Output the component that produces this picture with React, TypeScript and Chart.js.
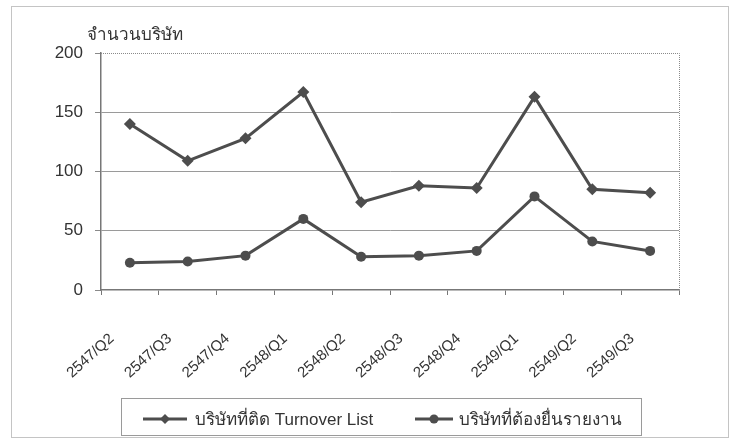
import { useEffect, useRef } from "react";
import { Chart, registerables } from "chart.js";

Chart.register(...registerables);

const categories = ["2547/Q2", "2547/Q3", "2547/Q4", "2548/Q1", "2548/Q2", "2548/Q3", "2548/Q4", "2549/Q1", "2549/Q2", "2549/Q3"];
const turnoverList = [140, 109, 128, 167, 74, 88, 86, 163, 85, 82];
const mustReport = [23, 24, 29, 60, 28, 29, 33, 79, 41, 33];
const yTickValues = [0, 50, 100, 150, 200];
const seriesNames = ["บริษัทที่ติด Turnover List", "บริษัทที่ต้องยื่นรายงาน"];
const yTitle = "จำนวนบริษัท";

const FONT = "'Liberation Sans', Arial, 'Noto Sans', 'DejaVu Sans', sans-serif";
const LINE = "#4d4d4d";

const decor = {
  id: "decor",
  beforeDraw(chart: any) {
    const { ctx, width, height } = chart;
    ctx.save();
    ctx.fillStyle = "#ffffff";
    ctx.fillRect(0, 0, width, height);
    ctx.strokeStyle = "#c4c4c4";
    ctx.lineWidth = 1;
    ctx.strokeRect(11.5, 6.5, 717, 431);
    ctx.restore();
  },
  beforeDatasetsDraw(chart: any) {
    const { ctx, chartArea } = chart;
    ctx.save();
    ctx.strokeStyle = "#8a8a8a";
    ctx.lineWidth = 1;
    ctx.setLineDash([1, 1]);
    ctx.beginPath();
    ctx.moveTo(chartArea.left, chartArea.top + 0.5);
    ctx.lineTo(chartArea.right + 0.5, chartArea.top + 0.5);
    ctx.lineTo(chartArea.right + 0.5, chartArea.bottom);
    ctx.stroke();
    ctx.restore();
  },
  afterDraw(chart: any) {
    const { ctx } = chart;
    ctx.save();
    // y title
    ctx.fillStyle = "#333";
    ctx.font = `17px ${FONT}`;
    ctx.textAlign = "left";
    ctx.textBaseline = "middle";
    ctx.fillText(yTitle, 87, 35);
    // legend box
    ctx.strokeStyle = "#9a9a9a";
    ctx.lineWidth = 1;
    ctx.strokeRect(121.5, 398.5, 520, 37);
    const cy = 419;
    const items = [
      { x0: 143, x1: 187, text: seriesNames[0], tx: 195, marker: "diamond" },
      { x0: 415, x1: 453, text: seriesNames[1], tx: 459, marker: "circle" },
    ];
    for (const it of items) {
      ctx.strokeStyle = LINE;
      ctx.lineWidth = 3;
      ctx.beginPath();
      ctx.moveTo(it.x0, cy);
      ctx.lineTo(it.x1, cy);
      ctx.stroke();
      const mx = (it.x0 + it.x1) / 2;
      ctx.fillStyle = LINE;
      ctx.beginPath();
      if (it.marker === "diamond") {
        ctx.moveTo(mx, cy - 5);
        ctx.lineTo(mx + 5, cy);
        ctx.lineTo(mx, cy + 5);
        ctx.lineTo(mx - 5, cy);
        ctx.closePath();
      } else {
        ctx.arc(mx, cy, 4.5, 0, Math.PI * 2);
      }
      ctx.fill();
      ctx.fillStyle = "#333";
      ctx.font = `17px ${FONT}`;
      ctx.textBaseline = "middle";
      ctx.fillText(it.text, it.tx, cy + 1);
    }
    ctx.restore();
  },
};

export default function App() {
  const ref = useRef<HTMLCanvasElement>(null);
  useEffect(() => {
    if (!ref.current) return;
    const chart = new Chart(ref.current, {
      type: "line",
      data: {
        labels: categories,
        datasets: [
          {
            label: seriesNames[0],
            data: turnoverList,
            borderColor: LINE,
            backgroundColor: LINE,
            borderWidth: 3,
            pointStyle: "rectRot",
            pointRadius: 6,
            pointBorderWidth: 0,
            tension: 0,
          },
          {
            label: seriesNames[1],
            data: mustReport,
            borderColor: LINE,
            backgroundColor: LINE,
            borderWidth: 3,
            pointStyle: "circle",
            pointRadius: 5,
            pointBorderWidth: 0,
            tension: 0,
          },
        ],
      },
      options: {
        responsive: false,
        devicePixelRatio: 1,
        animation: false,
        layout: { padding: { left: 0, top: 53, right: 55, bottom: 0 } },
        plugins: { legend: { display: false }, tooltip: { enabled: false } },
        scales: {
          x: {
            offset: true,
            grid: { display: true, drawOnChartArea: false, drawTicks: true, tickLength: 5, color: "#777", offset: true },
            border: { display: true, color: "#777", width: 1.5 },
            ticks: {
              color: "#333",
              font: { size: 15, family: FONT },
              minRotation: 42,
              maxRotation: 42,
              padding: 35,
              labelOffset: -18,
              autoSkip: false,
            },
            afterFit(scale: any) {
              scale.height = 149;
            },
          },
          y: {
            min: 0,
            max: 200,
            afterBuildTicks(scale: any) {
              scale.ticks = yTickValues.map((v) => ({ value: v }));
            },
            grid: {
              drawTicks: true,
              tickLength: 6,
              tickColor: "#8a8a8a",
              color: (c: any) => (c.tick && (c.tick.value === 200 || c.tick.value === 0) ? "rgba(0,0,0,0)" : "#9a9a9a"),
            },
            border: { display: true, color: "#777", width: 1.5 },
            ticks: { color: "#333", font: { size: 17, family: FONT }, padding: 12 },
            afterFit(scale: any) {
              scale.width = 101;
            },
          },
        },
      },
      plugins: [decor],
    });
    return () => chart.destroy();
  }, []);
  return (
    <div style={{ position: "fixed", left: 0, top: 0, width: 734, height: 439, background: "#fff" }}>
      <canvas ref={ref} width={734} height={439} style={{ display: "block", width: 734, height: 439 }} />
    </div>
  );
}
